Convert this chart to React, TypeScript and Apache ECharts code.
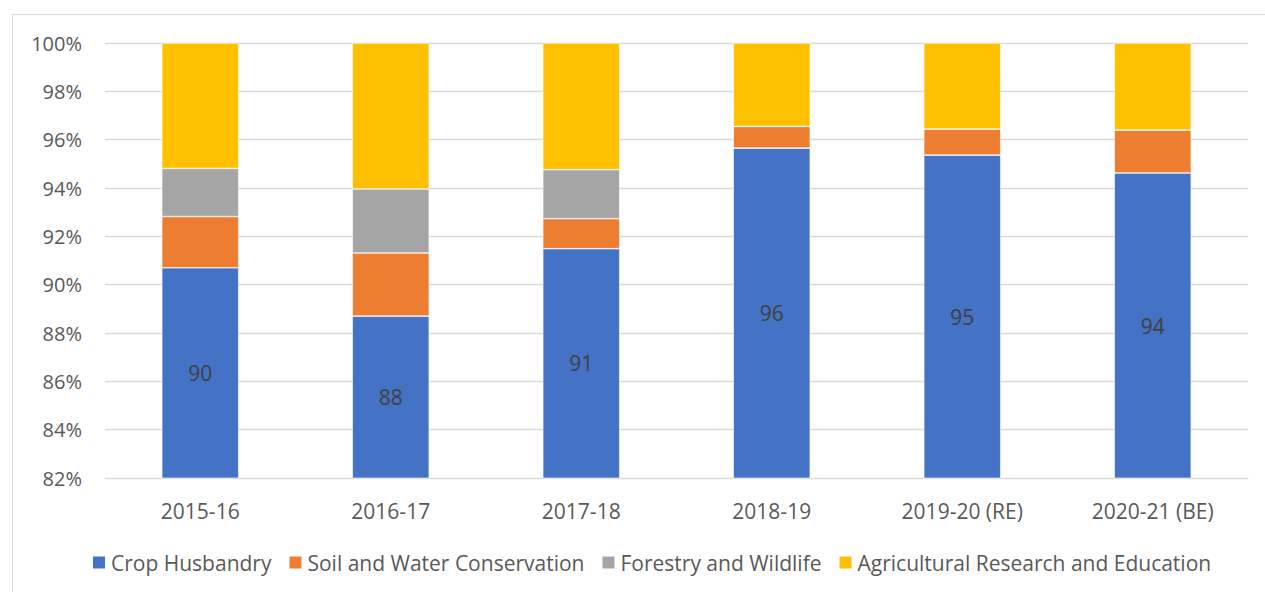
import React, { useEffect, useRef } from "react";
import * as echarts from "echarts";

const categories = ["2015-16", "2016-17", "2017-18", "2018-19", "2019-20 (RE)", "2020-21 (BE)"];
const cropHusbandry = [90.7, 88.7, 91.49, 95.65, 95.36, 94.62];
const cropLabels = ["90", "88", "91", "96", "95", "94"];
const soilWater = [2.12, 2.61, 1.24, 0.9, 1.08, 1.78];
const forestry = [1.99, 2.65, 2.03, 0, 0, 0];
const agriResearch = [5.19, 6.04, 5.24, 3.45, 3.56, 3.6];
const yTicks = { min: 82, max: 100, interval: 2 };

const FONT = "Open Sans";
const TEXT = "#595959";

export default function App() {
  const ref = useRef<HTMLDivElement>(null);
  useEffect(() => {
    if (!ref.current) return;
    const chart = echarts.init(ref.current, null, { renderer: "svg" });
    const barStyle = (color: string) => ({ color, borderColor: "#ffffff", borderWidth: 0.6 });
    chart.setOption({
      animation: false,
      textStyle: { fontFamily: FONT },
      graphic: [
        {
          type: "rect",
          shape: { x: 12.5, y: 14.5, width: 1400, height: 800 },
          style: { fill: "none", stroke: "#d9d9d9", lineWidth: 1 },
          silent: true,
        },
      ],
      grid: { left: 105, right: 17, top: 43, bottom: 114, containLabel: false },
      legend: {
        left: 86,
        top: 547,
        itemWidth: 14,
        itemHeight: 14,
        itemGap: 16,
        icon: "rect",
        textStyle: { color: TEXT, fontSize: 21, fontFamily: FONT },
        data: ["Crop Husbandry", "Soil and Water Conservation", "Forestry and Wildlife", "Agricultural Research and Education"],
      },
      xAxis: {
        type: "category",
        data: categories,
        axisLine: { lineStyle: { color: "#d9d9d9", width: 1 } },
        axisTick: { show: false },
        axisLabel: { color: TEXT, fontSize: 21, fontFamily: FONT, margin: 22 },
      },
      yAxis: {
        type: "value",
        min: yTicks.min,
        max: yTicks.max,
        interval: yTicks.interval,
        axisLine: { show: false },
        axisTick: { show: false },
        splitLine: { lineStyle: { color: "#d9d9d9", width: 1.3 } },
        axisLabel: { color: TEXT, fontSize: 20, fontFamily: FONT, margin: 23, formatter: "{value}%" },
      },
      series: [
        {
          name: "Crop Husbandry",
          type: "bar",
          stack: "total",
          barWidth: 77,
          data: cropHusbandry,
          itemStyle: barStyle("#4472C4"),
          label: {
            show: true,
            position: "inside",
            color: "#404040",
            fontSize: 21,
            fontFamily: FONT,
            formatter: (p: any) => cropLabels[p.dataIndex],
          },
        },
        { name: "Soil and Water Conservation", type: "bar", stack: "total", data: soilWater, itemStyle: barStyle("#ED7D31") },
        { name: "Forestry and Wildlife", type: "bar", stack: "total", data: forestry, itemStyle: barStyle("#A5A5A5") },
        { name: "Agricultural Research and Education", type: "bar", stack: "total", data: agriResearch, itemStyle: barStyle("#FFC000") },
      ],
    });
    return () => chart.dispose();
  }, []);
  return (
    <div
      ref={ref}
      style={{ position: "absolute", left: 0, top: 0, width: 1265, height: 592, background: "#ffffff" }}
    />
  );
}
